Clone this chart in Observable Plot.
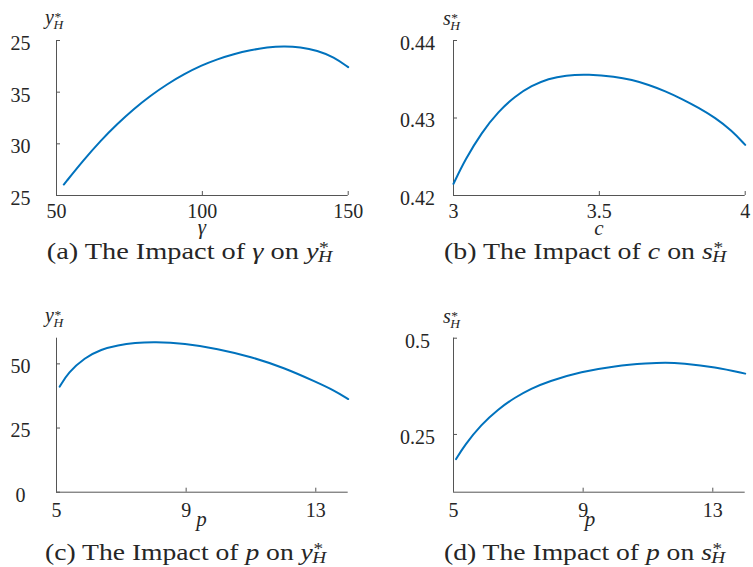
<!DOCTYPE html>
<html>
<head>
<meta charset="utf-8">
<script src="https://cdn.jsdelivr.net/npm/d3@7"></script>
<script src="https://cdn.jsdelivr.net/npm/@observablehq/plot@0.6"></script>
<style>
  html, body { margin: 0; padding: 0; background: #ffffff; }
  #root { position: relative; width: 753px; height: 567px; overflow: hidden; background: #ffffff; }
  #root svg { position: absolute; }
</style>
</head>
<body>
<div id="root"></div>
<script>
// ---------- Data ----------
// (a) Impact of gamma on y*_H
const gammaA = [52.5, 59.4, 65.1, 70.8, 76.5, 82.2, 87.9, 93.6, 99.9, 105.1, 110.8, 116.5, 122.2, 127.9, 133.6, 139.4, 145.1, 150];
const yHA    = [26.06, 28.47, 30.30, 31.92, 33.38, 34.66, 35.77, 36.73, 37.61, 38.19, 38.69, 39.07, 39.34, 39.46, 39.37, 39.04, 38.40, 37.42];
const xTicksA = [50, 100, 150];
const xTickLabelsA = ["50", "100", "150"];
const yTicksA = [25, 30, 35, 40];
const yTickLabelsA = ["25", "30", "35", "25"];

// (b) Impact of c on s*_H
const cB  = [3.0, 3.04, 3.097, 3.154, 3.211, 3.268, 3.326, 3.383, 3.463, 3.554, 3.611, 3.669, 3.726, 3.783, 3.84, 3.897, 3.954, 4.0];
const sHB = [0.42151, 0.42463, 0.42816, 0.43084, 0.43281, 0.43418, 0.43508, 0.43552, 0.43564, 0.43535, 0.43493, 0.43429, 0.43346, 0.43246, 0.43132, 0.43004, 0.42837, 0.42653];
const xTicksB = [3, 3.5, 4];
const xTickLabelsB = ["3", "3.5", "4"];
const yTicksB = [0.42, 0.43, 0.44];
const yTickLabelsB = ["0.42", "0.43", "0.44"];

// (c) Impact of p on y*_H
const pC  = [5.1, 5.36, 5.87, 6.38, 6.9, 7.41, 8.02, 8.95, 9.97, 11.0, 12.02, 13.0, 13.56, 14.0];
const yHC = [41.15, 46.6, 52.4, 55.7, 57.3, 58.2, 58.6, 58.0, 55.9, 52.8, 48.5, 43.0, 39.7, 36.3];
const xTicksC = [5, 9, 13];
const xTickLabelsC = ["5", "9", "13"];
const yTicksC = [0, 25, 50];
const yTickLabelsC = ["0", "25", "50"];

// (d) Impact of p on s*_H
const pD  = [5.08, 5.34, 5.86, 6.37, 6.89, 7.4, 7.92, 8.95, 9.98, 11.0, 11.54, 12.05, 13.08, 14.0];
const sHD = [0.186, 0.222, 0.276, 0.315, 0.346, 0.369, 0.388, 0.413, 0.428, 0.435, 0.437, 0.435, 0.425, 0.408];
const xTicksD = [5, 9, 13];
const xTickLabelsD = ["5", "9", "13"];
const yTicksD = [0.25, 0.5];
const yTickLabelsD = ["0.25", "0.5"];

// ---------- Style ----------
const FONT = "'Liberation Serif', 'Times New Roman', serif";
const TEXT = "#262626";
const AXIS = "#555555";
const LINE = "#0072BD";

const root = document.getElementById("root");

function addPanel(cfg) {
  const table = cfg.xs.map((x, i) => ({x, y: cfg.ys[i]}));
  const pw = cfg.w - cfg.mL - cfg.mR;
  const ph = cfg.h - cfg.mT - cfg.mB;
  const fmt = (ticks, labels) => d => labels[ticks.indexOf(d)];
  const svg = Plot.plot({
    width: cfg.w, height: cfg.h,
    marginLeft: cfg.mL, marginRight: cfg.mR, marginTop: cfg.mT, marginBottom: cfg.mB,
    x: {domain: cfg.xDomain, label: null},
    y: {domain: cfg.yDomain, label: null},
    style: {fontFamily: FONT, fontSize: "20px", color: TEXT, background: "transparent", overflow: "visible"},
    marks: [
      Plot.ruleX([cfg.xDomain[0]], {stroke: AXIS, strokeWidth: 1}),
      Plot.ruleY([cfg.yDomain[0]], {stroke: AXIS, strokeWidth: 1}),
      Plot.tickY(cfg.yTicks, {y: d => d, stroke: AXIS, insetRight: pw - 4}),
      Plot.tickX(cfg.xTicks, {x: d => d, stroke: AXIS, insetTop: ph - 4}),
      Plot.axisY(cfg.yTicks, {tickSize: 0, tickPadding: 36, textAnchor: "middle", dy: 3,
        tickFormat: fmt(cfg.yTicks, cfg.yLabels), label: null, fill: TEXT}),
      Plot.axisX(cfg.xTicks, {tickSize: 0, tickPadding: cfg.xPad,
        tickFormat: fmt(cfg.xTicks, cfg.xLabels), label: null, fill: TEXT}),
      Plot.line(table, {x: "x", y: "y", curve: "basis", stroke: LINE, strokeWidth: 2})
    ]
  });
  svg.style.left = cfg.left + "px";
  svg.style.top = cfg.top + "px";
  root.appendChild(svg);
}

addPanel({left: 0, top: 0, w: 376, h: 240, mL: 56, mR: 28.3, mT: 40, mB: 45, xPad: 8,
  xDomain: [50, 150], yDomain: [25, 40], xs: gammaA, ys: yHA,
  xTicks: xTicksA, xLabels: xTickLabelsA, yTicks: yTicksA, yLabels: yTickLabelsA});
addPanel({left: 376, top: 0, w: 377, h: 240, mL: 77, mR: 8.3, mT: 40, mB: 45, xPad: 8,
  xDomain: [3, 4], yDomain: [0.42, 0.44], xs: cB, ys: sHB,
  xTicks: xTicksB, xLabels: xTickLabelsB, yTicks: yTicksB, yLabels: yTickLabelsB});
addPanel({left: 0, top: 290, w: 376, h: 250, mL: 56, mR: 28.3, mT: 47.7, mB: 48.3, xPad: 11,
  xDomain: [5, 14], yDomain: [0, 60], xs: pC, ys: yHC,
  xTicks: xTicksC, xLabels: xTickLabelsC, yTicks: yTicksC, yLabels: yTickLabelsC});
addPanel({left: 376, top: 290, w: 377, h: 250, mL: 77, mR: 8.3, mT: 47.7, mB: 48.3, xPad: 11,
  xDomain: [5, 14], yDomain: [0.1, 0.5], xs: pD, ys: sHD,
  xTicks: xTicksD, xLabels: xTickLabelsD, yTicks: yTicksD, yLabels: yTickLabelsD});

// ---------- Overlay text (axis labels, captions) ----------
const over = d3.create("svg")
  .attr("width", 753).attr("height", 567)
  .style("left", "0px").style("top", "0px")
  .style("font-family", FONT).style("fill", TEXT);
root.appendChild(over.node());

// star superscript and H subscript stacked after the current text position
function addScripts(t, size, supDy, subDy) {
  t.append("tspan").attr("dx", 0.5).attr("dy", supDy)
    .style("font-size", size + "px").style("font-style", "normal").text("*");
  t.append("tspan").attr("dx", -(0.5 * size) - 1).attr("dy", subDy - supDy)
    .style("font-size", size + "px").style("font-style", "italic").text("H");
}

// y-axis labels
function ylab(x, baseline, letter) {
  const t = over.append("text").attr("x", x).attr("y", baseline).style("font-size", "20px");
  t.append("tspan").style("font-style", "italic").text(letter);
  addScripts(t, 13.5, -3, 5.3);
}
ylab(45, 24, "y");
ylab(443, 24.5, "s");
ylab(45, 322, "y");
ylab(443, 322.5, "s");

// x-axis labels
function xlab(cx, baseline, letter) {
  over.append("text").attr("x", cx).attr("y", baseline).attr("text-anchor", "middle")
    .style("font-size", "21px").style("font-style", "italic").text(letter);
}
xlab(202, 233.5, "γ");
xlab(599, 235, "c");
xlab(201.5, 525.5, "p");
xlab(590, 525.5, "p");

// captions (horizontally scaled to the reference's wide typeset width)
function caption(x, baseline, tag, v, target, width) {
  const t = over.append("text").attr("x", 0).attr("y", 0).style("font-size", "23px");
  t.append("tspan").text("(" + tag + ") The Impact of ");
  t.append("tspan").style("font-style", "italic").text(v);
  t.append("tspan").text(" on ");
  t.append("tspan").style("font-style", "italic").text(target);
  const w = t.node().getComputedTextLength();
  const sx = width / w;
  t.attr("transform", `translate(${x},${baseline}) scale(${sx},1)`);
  addScripts(t, 16, -5.6, 3.2);
}
caption(46.7, 258.5, "a", "γ", "y", 272);
caption(444, 258.5, "b", "c", "s", 269);
caption(45, 560, "c", "p", "y", 268);
caption(444, 560, "d", "p", "s", 268);
</script>
</body>
</html>
